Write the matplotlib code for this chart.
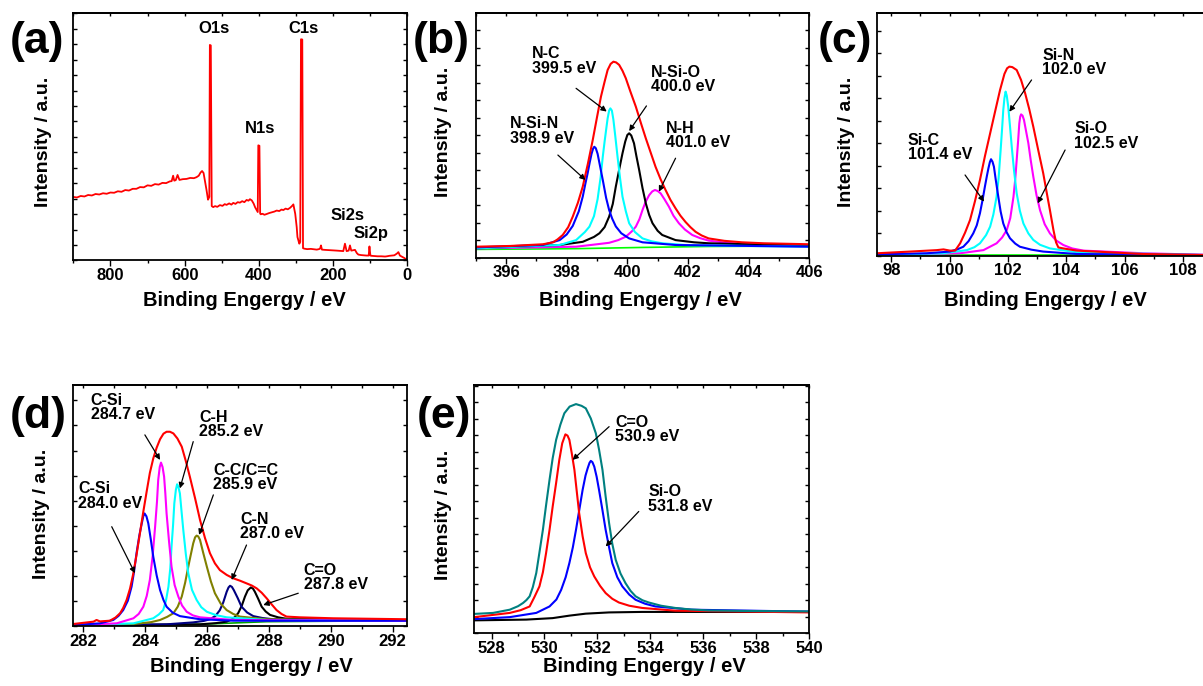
import matplotlib
matplotlib.use('Agg')
import matplotlib.pyplot as plt
from matplotlib.ticker import MultipleLocator

# ---------------- data ----------------
# (a) survey spectrum
a_ev = [900, 890, 880, 870, 860, 850, 840, 830, 820, 810, 800, 790, 780, 770, 760, 750, 740, 730, 720, 710,
        700, 690, 680, 670, 660, 650, 640, 635, 631, 628, 624, 619, 614, 605, 595, 585, 575, 568, 562, 557,
        553, 549, 545, 541, 537, 533.5, 532, 529.5, 527, 523, 518, 512, 505, 498, 492, 487, 480, 474, 469,
        463, 457, 451, 445, 439, 433, 428, 424, 419, 414, 410, 406, 403, 401.5, 398.5, 396.5, 395, 390, 385,
        379, 372, 365, 358, 352, 345, 339, 334, 328, 322, 316, 311, 307, 304, 302, 298, 296, 291, 288.5,
        286.5, 283, 281, 278, 270, 260, 250, 244, 238, 235, 232.6, 230, 222, 210, 200, 190, 180, 172.5, 168,
        163.5, 158, 154.5, 151, 145, 141, 136, 132, 125, 118, 110, 104, 102, 99.5, 97, 90, 80, 70, 60, 55,
        48, 42, 35, 28, 24, 20, 14, 8, 4, 0]
a_int = [25.7, 25.5, 26.1, 25.9, 26.5, 26.3, 26.9, 26.7, 27.2, 27.0, 27.5, 27.4, 28.0, 27.8, 28.5, 28.3, 29.0,
         29.0, 29.7, 29.6, 30.4, 30.2, 30.9, 30.7, 31.4, 31.3, 32.0, 32.1, 34.3, 32.3, 32.5, 34.6, 32.6, 32.9,
         33.0, 33.4, 33.3, 33.7, 34.3, 35.6, 36.2, 35.4, 32.0, 28.5, 24.6, 25.7, 87.2, 87.0, 22.0, 21.6, 22.0,
         21.7, 22.4, 22.1, 22.8, 22.5, 23.1, 22.6, 23.3, 22.9, 23.6, 23.4, 24.0, 23.6, 24.5, 24.2, 24.8, 24.3,
         23.0, 21.5, 20.4, 19.6, 46.6, 46.4, 19.0, 18.7, 18.9, 18.5, 18.8, 19.2, 19.5, 19.8, 20.2, 20.0, 20.6,
         20.4, 21.0, 20.7, 21.3, 22.0, 22.7, 20.5, 18.9, 13.5, 9.5, 6.8, 7.5, 89.5, 89.4, 5.0, 4.8, 4.6, 4.7,
         4.5, 4.4, 4.6, 4.8, 6.1, 4.4, 4.3, 4.2, 4.1, 4.0, 3.9, 3.8, 6.8, 3.8, 4.0, 6.1, 4.0, 4.2, 4.3, 3.0,
         2.4, 2.2, 2.1, 2.0, 2.0, 5.7, 2.0, 1.9, 1.8, 1.7, 1.7, 1.6, 1.7, 1.9, 2.0, 2.1, 2.8, 3.4, 2.0, 1.5,
         1.0, 0.6, 0.2]
a_peak_names = ['O1s', 'C1s', 'N1s', 'Si2s', 'Si2p']
a_peak_ev = [520, 280, 397, 161, 99]
a_peak_int = [92.0, 91.9, 51.6, 16.2, 9.1]

# (b) N1s
b_red_x = [395.0, 396.13, 397.22, 397.55, 397.7, 397.87, 398.05, 398.2, 398.37, 398.53, 398.7, 398.86, 399.0,
           399.13, 399.25, 399.35, 399.45, 399.54, 399.63, 399.73, 399.84, 399.95, 400.1, 400.28, 400.45,
           400.61, 400.77, 400.93, 401.1, 401.26, 401.42, 401.59, 401.75, 401.92, 402.08, 402.25, 402.45,
           402.68, 403.2, 403.78, 404.5, 406.0]
b_red_y = [4.5, 4.8, 5.5, 6.3, 7.5, 9.3, 12.5, 16.8, 22.5, 29.1, 38.5, 48.2, 57.5, 65.9, 72.0, 76.8, 79.3,
           80.2, 79.9, 78.9, 76.5, 73.4, 68.0, 61.8, 55.0, 48.8, 43.0, 37.2, 32.0, 27.7, 23.7, 20.2, 17.2,
           14.6, 12.5, 10.6, 9.1, 7.9, 6.9, 6.3, 5.9, 5.5]
b_blue_x = [395.0, 397.22, 397.77, 398.0, 398.2, 398.4, 398.53, 398.62, 398.69, 398.76, 398.82, 398.87,
            398.91, 398.96, 399.02, 399.1, 399.19, 399.3, 399.4, 399.5, 399.62, 399.8, 400.06, 400.5, 401.59,
            406.0]
b_blue_y = [4.2, 5.2, 7.2, 9.5, 13.0, 19.0, 25.0, 30.5, 34.5, 39.0, 42.5, 44.6, 45.4, 44.8, 42.5, 37.5,
            31.8, 24.5, 19.5, 16.0, 12.8, 10.0, 7.9, 6.3, 5.2, 4.5]
b_cyan_x = [395.0, 397.77, 398.31, 398.6, 398.75, 398.9, 399.02, 399.12, 399.19, 399.25, 399.3, 399.35,
            399.4, 399.44, 399.49, 399.54, 399.6, 399.68, 399.76, 399.84, 399.95, 400.06, 400.25, 400.5,
            400.8, 401.15, 402.0, 406.0]
b_cyan_y = [3.8, 5.2, 7.2, 10.5, 12.7, 17.0, 24.0, 33.0, 41.3, 47.5, 52.3, 57.0, 60.2, 61.1, 60.2, 56.5,
            50.0, 41.0, 32.5, 25.0, 19.0, 14.1, 10.5, 7.9, 6.7, 5.9, 5.1, 4.5]
b_black_x = [395.0, 397.77, 398.53, 398.9, 399.08, 399.25, 399.4, 399.52, 399.62, 399.73, 399.84, 399.93,
             400.0, 400.06, 400.13, 400.22, 400.3, 400.39, 400.5, 400.61, 400.72, 400.83, 401.0, 401.15,
             401.59, 402.2, 402.68, 406.0]
b_black_y = [3.8, 5.2, 6.5, 8.5, 10.0, 12.5, 16.8, 22.0, 29.1, 36.0, 42.7, 47.5, 50.2, 50.9, 50.0, 46.8,
             41.5, 35.9, 28.5, 22.2, 17.5, 14.1, 11.0, 9.3, 7.2, 6.3, 5.9, 4.9]
b_mag_x = [395.0, 398.31, 399.0, 399.4, 399.7, 399.95, 400.15, 400.28, 400.4, 400.5, 400.6, 400.72, 400.82,
           400.91, 401.0, 401.1, 401.22, 401.37, 401.52, 401.7, 401.9, 402.14, 402.4, 402.68, 403.2, 403.78,
           406.0]
b_mag_y = [3.8, 4.5, 5.5, 6.1, 7.2, 8.6, 10.8, 12.7, 15.8, 19.5, 22.8, 25.6, 27.1, 27.7, 27.3, 26.3, 24.0,
           20.9, 17.2, 14.1, 11.5, 9.3, 8.0, 7.0, 6.2, 5.6, 4.8]
b_green_x = [395.0, 398.31, 400.5, 402.68, 406.0]
b_green_y = [3.4, 3.7, 4.2, 4.6, 4.8]
b_labels = ['N-C\n399.5 eV', 'N-Si-O\n400.0 eV', 'N-Si-N\n398.9 eV', 'N-H\n401.0 eV']

# (c) Si2p
c_red_x = [97.5, 98.64, 99.56, 99.79, 100.01, 100.19, 100.36, 100.53, 100.7, 100.87, 101.04, 101.21, 101.39,
           101.56, 101.73, 101.88, 101.97, 102.05, 102.15, 102.3, 102.45, 102.59, 102.73, 102.87, 103.04,
           103.21, 103.33, 103.44, 103.56, 103.65, 103.73, 103.9, 104.36, 105.5, 106.64, 108.69, 109.3]
c_red_y = [1.0, 1.7, 2.3, 2.6, 2.1, 2.1, 5.1, 9.5, 14.7, 22.5, 31.2, 41.0, 50.5, 59.5, 68.4, 75.0, 77.3,
           78.0, 77.8, 76.6, 72.5, 67.0, 60.5, 53.2, 43.5, 34.0, 26.0, 18.8, 10.6, 5.5, 3.4, 3.0, 2.1, 1.4,
           0.7, 0.3, 0.3]
c_blue_x = [97.5, 99.21, 100.01, 100.3, 100.47, 100.65, 100.81, 100.93, 101.04, 101.13, 101.21, 101.28,
            101.33, 101.38, 101.42, 101.47, 101.52, 101.58, 101.67, 101.75, 101.84, 101.95, 102.07, 102.25,
            102.41, 102.8, 103.21, 104.36, 108.69, 109.3]
c_blue_y = [0.55, 1.0, 1.7, 2.8, 3.7, 6.0, 9.2, 12.5, 17.5, 23.0, 28.5, 33.0, 36.0, 38.6, 39.8, 38.8, 36.7,
            31.5, 24.3, 18.2, 13.3, 9.8, 7.2, 5.0, 3.7, 2.5, 1.7, 0.7, 0.3, 0.3]
c_cyan_x = [97.5, 99.79, 100.59, 100.85, 101.04, 101.25, 101.39, 101.5, 101.61, 101.68, 101.75, 101.8,
            101.84, 101.88, 101.92, 101.96, 102.01, 102.07, 102.13, 102.21, 102.3, 102.41, 102.53, 102.7,
            102.87, 103.1, 103.44, 104.36, 108.69, 109.3]
c_cyan_y = [0.3, 1.0, 2.3, 3.5, 5.1, 8.5, 12.0, 17.0, 24.3, 32.0, 43.6, 52.5, 60.1, 65.0, 67.7, 66.0, 61.5,
            53.5, 45.0, 35.0, 25.7, 18.5, 13.3, 9.2, 6.5, 4.5, 3.0, 1.4, 0.3, 0.3]
c_mag_x = [97.5, 100.36, 101.16, 101.61, 101.8, 101.96, 102.08, 102.19, 102.25, 102.3, 102.35, 102.39,
           102.42, 102.45, 102.5, 102.55, 102.62, 102.7, 102.78, 102.87, 102.98, 103.1, 103.26, 103.44,
           103.65, 103.9, 104.2, 104.59, 106.64, 108.69, 109.3]
c_mag_y = [0.3, 1.0, 2.3, 5.1, 7.5, 10.6, 15.5, 24.3, 31.5, 39.5, 47.5, 54.6, 57.3, 58.3, 57.8, 56.0, 51.5,
           46.4, 39.5, 32.6, 25.0, 18.8, 13.0, 9.2, 6.3, 4.4, 3.0, 2.1, 1.0, 0.4, 0.4]
c_green_x = [97.5, 109.3]
c_green_y = [0.3, 0.3]
c_labels = ['Si-N\n102.0 eV', 'Si-C\n101.4 eV', 'Si-O\n102.5 eV']

# (d) C1s
d_red_x = [281.67, 282.34, 282.44, 282.55, 282.87, 283.05, 283.2, 283.3, 283.41, 283.52, 283.63, 283.73,
           283.84, 283.95, 284.06, 284.16, 284.27, 284.38, 284.49, 284.6, 284.7, 284.81, 284.92, 285.05,
           285.19, 285.32, 285.45, 285.62, 285.78, 285.94, 286.1, 286.26, 286.42, 286.64, 286.85, 287.07,
           287.28, 287.45, 287.61, 287.77, 287.93, 288.09, 288.25, 288.41, 288.57, 289.0, 290.08, 292.47]
d_red_y = [0.8, 1.8, 2.5, 1.9, 2.2, 3.5, 5.3, 7.5, 10.8, 15.5, 22.0, 29.5, 38.5, 47.5, 56.0, 63.5, 69.5,
           74.0, 77.5, 79.8, 80.6, 80.6, 79.9, 77.8, 74.4, 68.5, 62.0, 53.0, 44.0, 36.5, 30.2, 26.0, 23.2,
           21.2, 19.8, 18.8, 17.7, 16.8, 15.6, 13.8, 11.5, 9.0, 6.6, 5.0, 3.9, 3.6, 3.2, 2.8]
d_blue_x = [281.67, 282.55, 282.98, 283.15, 283.3, 283.45, 283.57, 283.65, 283.73, 283.82, 283.9, 283.95,
            283.99, 284.05, 284.11, 284.19, 284.27, 284.38, 284.49, 284.6, 284.7, 284.9, 285.13, 285.78,
            286.85, 292.47]
d_blue_y = [0.4, 1.1, 2.5, 4.2, 6.6, 10.5, 16.3, 22.5, 30.2, 37.5, 42.6, 45.6, 46.7, 45.5, 42.6, 36.0, 28.8,
            21.0, 14.9, 10.8, 8.0, 5.5, 4.1, 2.8, 2.2, 2.2]
d_mag_x = [281.67, 283.09, 283.63, 283.8, 283.95, 284.06, 284.16, 284.25, 284.33, 284.39, 284.43, 284.48,
           284.52, 284.57, 284.62, 284.66, 284.7, 284.78, 284.86, 284.96, 285.08, 285.2, 285.35, 285.55,
           285.78, 286.85, 292.47]
d_mag_y = [0.3, 1.1, 3.2, 5.0, 8.0, 12.5, 19.1, 29.0, 41.2, 51.5, 60.6, 66.0, 67.8, 66.0, 62.0, 55.0, 46.7,
           35.0, 24.6, 17.0, 12.2, 8.5, 5.9, 4.4, 3.6, 2.5, 2.2]
d_cyan_x = [281.67, 283.63, 284.27, 284.45, 284.59, 284.68, 284.76, 284.82, 284.86, 284.91, 284.95, 285.0,
            285.04, 285.08, 285.13, 285.18, 285.24, 285.32, 285.4, 285.52, 285.67, 285.82, 286.0, 286.3,
            286.64, 287.93, 292.47]
d_cyan_y = [0.3, 1.1, 3.2, 4.8, 6.6, 10.5, 16.3, 24.0, 32.9, 42.0, 50.9, 56.5, 58.8, 57.8, 55.0, 48.0, 39.8,
            30.0, 21.9, 15.0, 10.8, 7.8, 5.9, 4.5, 3.6, 2.5, 2.2]
d_olive_x = [281.67, 283.63, 284.2, 284.49, 284.72, 284.92, 285.06, 285.19, 285.3, 285.4, 285.48, 285.56,
             285.62, 285.67, 285.72, 285.78, 285.88, 286.0, 286.13, 286.26, 286.45, 286.64, 286.85, 287.07,
             287.93, 292.47]
d_olive_y = [0.3, 0.8, 1.6, 2.5, 3.8, 5.3, 8.0, 12.2, 18.0, 24.6, 29.5, 34.3, 36.8, 37.5, 37.2, 35.7, 30.5,
             24.6, 18.5, 13.6, 9.2, 6.6, 5.0, 3.9, 2.8, 2.2]
d_navy_x = [281.67, 284.7, 285.56, 285.9, 286.1, 286.28, 286.42, 286.53, 286.64, 286.7, 286.75, 286.81,
            286.87, 287.0, 287.12, 287.3, 287.5, 287.8, 288.14, 292.47]
d_navy_y = [0.3, 0.7, 1.5, 2.1, 2.8, 4.2, 6.6, 9.8, 14.2, 16.0, 16.7, 16.2, 14.9, 11.5, 8.0, 5.6, 4.1, 3.3,
            2.8, 2.2]
d_black_x = [281.67, 285.78, 286.3, 286.64, 286.85, 287.01, 287.13, 287.23, 287.32, 287.42, 287.49, 287.55,
             287.65, 287.77, 287.9, 288.04, 288.3, 288.57, 292.47]
d_black_y = [0.3, 0.7, 1.2, 1.8, 3.0, 5.3, 8.5, 12.2, 14.8, 16.0, 15.5, 14.2, 11.5, 8.0, 6.0, 4.6, 3.6, 3.0,
             2.2]
d_green_x = [281.67, 285.78, 287.93, 292.47]
d_green_y = [0.1, 0.7, 1.8, 2.2]
d_labels = ['C-Si\n284.7 eV', 'C-H\n285.2 eV', 'C-C/C=C\n285.9 eV', 'C-Si\n284.0 eV', 'C-N\n287.0 eV',
            'C=O\n287.8 eV']

# (e) O1s
e_teal_x = [527.35, 528.06, 528.69, 529.0, 529.19, 529.32, 529.44, 529.56, 529.69, 529.81, 529.94, 530.06,
            530.19, 530.31, 530.44, 530.6, 530.75, 530.95, 531.19, 531.4, 531.56, 531.75, 531.94, 532.06,
            532.19, 532.31, 532.44, 532.56, 532.69, 532.87, 533.06, 533.25, 533.44, 533.7, 533.94, 534.4,
            534.94, 535.5, 536.19, 537.44, 540.0]
e_teal_y = [7.7, 8.1, 9.4, 10.8, 12.1, 13.3, 14.8, 18.5, 24.2, 32.5, 41.6, 51.5, 61.7, 70.5, 77.9, 84.0,
            88.6, 91.3, 92.3, 91.6, 90.6, 86.5, 80.5, 74.0, 65.8, 55.0, 44.3, 36.0, 29.5, 24.0, 20.1, 17.0,
            14.8, 13.2, 12.3, 11.0, 10.1, 9.5, 9.1, 8.9, 8.7]
e_red_x = [527.35, 528.69, 529.1, 529.44, 529.62, 529.81, 529.94, 530.06, 530.19, 530.31, 530.44, 530.56,
           530.67, 530.79, 530.87, 530.94, 531.03, 531.13, 531.22, 531.31, 531.44, 531.56, 531.72, 531.88,
           532.1, 532.31, 532.56, 532.81, 533.2, 533.69, 534.94, 540.0]
e_red_y = [6.4, 8.1, 9.2, 10.7, 14.5, 18.8, 24.5, 32.2, 41.5, 51.0, 60.5, 69.8, 76.5, 80.1, 79.6, 77.9,
           72.5, 65.8, 57.0, 48.3, 39.0, 32.2, 26.5, 22.8, 19.0, 16.1, 13.8, 12.3, 11.0, 10.1, 9.0, 8.3]
e_blue_x = [527.35, 528.69, 529.69, 530.19, 530.45, 530.63, 530.8, 530.94, 531.07, 531.19, 531.32, 531.44,
            531.55, 531.63, 531.7, 531.75, 531.81, 531.88, 531.97, 532.06, 532.19, 532.31, 532.44, 532.56,
            532.75, 532.94, 533.2, 533.44, 533.8, 534.19, 535.56, 540.0]
e_blue_y = [5.6, 6.4, 8.1, 10.7, 13.5, 17.4, 22.5, 28.2, 34.5, 41.6, 50.0, 57.7, 63.5, 66.4, 68.6, 69.4,
            68.9, 67.1, 63.0, 57.7, 49.5, 41.6, 34.5, 28.2, 22.5, 18.8, 15.5, 13.4, 11.8, 10.7, 9.4, 8.6]
e_black_x = [527.35, 529.31, 530.31, 530.94, 531.56, 532.44, 533.69, 540.0]
e_black_y = [5.1, 5.4, 6.0, 7.0, 7.8, 8.3, 8.5, 8.5]
e_labels = ['C=O\n530.9 eV', 'Si-O\n531.8 eV']

# ---------------- figure ----------------
plt.rcParams['font.family'] = ['Liberation Sans', 'DejaVu Sans']
plt.rcParams['font.weight'] = 'bold'

W, H = 1203, 686
fig = plt.figure(figsize=(W / 100, H / 100), dpi=100)


def px_axes(l, t, r, b):
    return fig.add_axes([l / W, 1 - b / H, (r - l) / W, (b - t) / H])


def style(ax, xlim, major, minor, ystep):
    ax.set_xlim(*xlim)
    ax.set_ylim(0, 100)
    ax.xaxis.set_major_locator(MultipleLocator(major))
    ax.xaxis.set_minor_locator(MultipleLocator(minor))
    ax.yaxis.set_major_locator(MultipleLocator(ystep))
    ax.tick_params(axis='x', which='both', direction='out', top=False, labelsize=12, pad=1.5, width=1)
    ax.tick_params(axis='x', which='major', length=4)
    ax.tick_params(axis='x', which='minor', length=2.5)
    ax.tick_params(axis='y', which='both', direction='in', left=True, right=True,
                   labelleft=False, length=3, width=1)
    sec = ax.secondary_xaxis('top')
    sec.xaxis.set_major_locator(MultipleLocator(major))
    sec.xaxis.set_minor_locator(MultipleLocator(minor))
    sec.tick_params(which='both', direction='in', labeltop=False, length=2.5, width=1)
    for s in ax.spines.values():
        s.set_linewidth(1.3)
    sec.spines['top'].set_linewidth(1.3)


def arrow(ax, start, end):
    ax.annotate('', xy=end, xytext=start,
                arrowprops=dict(arrowstyle='-|>', color='black', lw=0.9, mutation_scale=8,
                                shrinkA=0, shrinkB=0))


def labels(ax, texts, positions):
    for t, (x, y) in zip(texts, positions):
        ax.text(x, y, t, ha='left', va='top', fontsize=11.5, fontweight='bold', linespacing=0.95)


def fig_text(x, y, s, **kw):
    fig.text(x / W, 1 - y / H, s, ha='center', va='center', fontweight='bold', **kw)


LW = 1.5
kw = dict(lw=LW, solid_joinstyle='round')

# (a)
axa = px_axes(73.3, 13.3, 407.3, 260.5)
axa.plot(a_ev, a_int, color='#FF0000', lw=1.3)
style(axa, (900, 0), 200, 100, 6.25)
for n, x, y in zip(a_peak_names, a_peak_ev, a_peak_int):
    axa.text(x, y, n, ha='center', va='baseline', fontsize=12)

# (b)
axb = px_axes(475.7, 13.3, 809.3, 257.7)
axb.plot(b_green_x, b_green_y, color='#00FF00', lw=1.2)
axb.plot(b_mag_x, b_mag_y, color='#FF00FF', **kw)
axb.plot(b_black_x, b_black_y, color='black', **kw)
axb.plot(b_cyan_x, b_cyan_y, color='#00FFFF', **kw)
axb.plot(b_blue_x, b_blue_y, color='#0000FF', **kw)
axb.plot(b_red_x, b_red_y, color='#FF0000', **kw)
style(axb, (395, 406), 2, 1, 7.16)
labels(axb, b_labels, [(396.84, 86.5), (400.77, 79.0), (396.13, 57.8), (401.26, 56.1)])
arrow(axb, (398.31, 69.3), (399.32, 59.8))
arrow(axb, (400.63, 62.1), (400.06, 51.8))
arrow(axb, (397.71, 42.0), (398.62, 31.8))
arrow(axb, (401.59, 40.7), (401.04, 27.0))

# (c)
axc = px_axes(876.7, 13.3, 1215, 255.7)
axc.plot(c_green_x, c_green_y, color='#00FF00', lw=1.2)
axc.plot(c_mag_x, c_mag_y, color='#FF00FF', **kw)
axc.plot(c_cyan_x, c_cyan_y, color='#00FFFF', **kw)
axc.plot(c_blue_x, c_blue_y, color='#0000FF', **kw)
axc.plot(c_red_x, c_red_y, color='#FF0000', **kw)
style(axc, (97.5, 109.1), 2, 1, 9.28)
labels(axc, c_labels, [(103.18, 85.7), (98.56, 50.6), (104.28, 55.4)])
arrow(axc, (102.81, 72.5), (102.05, 59.4))
arrow(axc, (100.53, 33.3), (101.18, 22.3))
arrow(axc, (103.96, 43.6), (103.02, 21.6))

# (d)
axd = px_axes(72.7, 385, 407.3, 626)
axd.plot(d_green_x, d_green_y, color='#00A000', lw=1.2)
axd.plot(d_black_x, d_black_y, color='black', **kw)
axd.plot(d_navy_x, d_navy_y, color='#000080', **kw)
axd.plot(d_olive_x, d_olive_y, color='#808000', **kw)
axd.plot(d_cyan_x, d_cyan_y, color='#00FFFF', **kw)
axd.plot(d_mag_x, d_mag_y, color='#FF00FF', **kw)
axd.plot(d_blue_x, d_blue_y, color='#0000FF', **kw)
axd.plot(d_red_x, d_red_y, color='#FF0000', **kw)
style(axd, (281.67, 292.47), 2, 1, 10.4)
labels(axd, d_labels, [(282.25, 96.7), (285.76, 89.7), (286.21, 67.6), (281.85, 60.0), (287.07, 47.5),
                       (289.13, 26.1)])
arrow(axd, (284.0, 79.3), (284.49, 68.9))
arrow(axd, (285.56, 76.5), (285.13, 57.1))
arrow(axd, (286.21, 54.4), (285.75, 37.8))
arrow(axd, (282.93, 41.2), (283.68, 21.9))
arrow(axd, (287.28, 33.6), (286.8, 19.1))
arrow(axd, (288.95, 13.6), (287.82, 8.7))

# (e)
axe = px_axes(474.3, 385, 809.3, 633)
axe.plot(e_black_x, e_black_y, color='black', **kw)
axe.plot(e_blue_x, e_blue_y, color='#0000FF', **kw)
axe.plot(e_red_x, e_red_y, color='#FF0000', **kw)
axe.plot(e_teal_x, e_teal_y, color='#008080', **kw)
style(axe, (527.35, 540), 2, 1, 6.65)
labels(axe, e_labels, [(532.66, 88.0), (533.91, 59.9)])
arrow(axe, (532.44, 83.2), (531.06, 69.8))
arrow(axe, (533.56, 49.0), (532.31, 34.9))

# axis labels
XL = 'Binding Engergy / eV'
YL = 'Intensity / a.u.'
for x, y in [(244, 301), (640, 301), (1045, 301), (251.5, 667), (644, 667)]:
    fig_text(x, y, XL, fontsize=14.5)
for x, y in [(43, 141.5), (444, 131.7), (846, 142), (41.7, 514), (444, 515)]:
    fig_text(x, y, YL, fontsize=14, rotation=90)

# panel letters
for s, x, y in [('(a)', 37, 41), ('(b)', 441.7, 41.7), ('(c)', 844.5, 41.7), ('(d)', 38.3, 416.7),
                ('(e)', 444, 416.7)]:
    fig_text(x, y, s, fontsize=32)

fig.savefig('out.png', dpi=100)
